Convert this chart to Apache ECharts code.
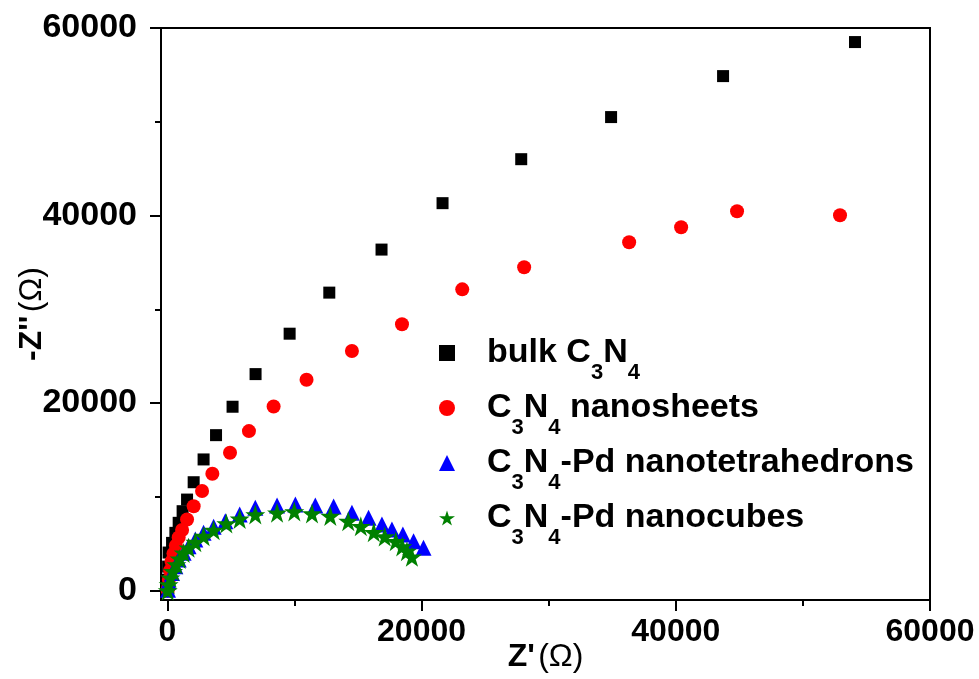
<!DOCTYPE html>
<html><head><meta charset="utf-8">
<script src="https://cdn.jsdelivr.net/npm/echarts@6/dist/echarts.min.js"></script>
<style>html,body{margin:0;padding:0;background:#fff;overflow:hidden}#c{width:979px;height:679px}</style>
</head><body><div id="c"></div>
<script>
const seriesNames = ['bulk C3N4', 'C3N4 nanosheets', 'C3N4-Pd nanotetrahedrons', 'C3N4-Pd nanocubes'];
const bulkRe = [20, 40, 60, 100, 370, 630, 890, 1200, 1550, 2070, 2850, 3830, 5130, 6940, 9620, 12740, 16850, 21650, 27840, 34910, 43720, 54100];
const bulkIm = [320, 1170, 2560, 4060, 5090, 6160, 7230, 8470, 9710, 11560, 13990, 16580, 19610, 23090, 27400, 31780, 36370, 41320, 46010, 50500, 54870, 58500];
const sheetRe = [30, 60, 120, 220, 330, 480, 670, 890, 1160, 1550, 2070, 2730, 3540, 4930, 6420, 8360, 10950, 14520, 18460, 23200, 28070, 36330, 40420, 44820, 52920];
const sheetIm = [0, 320, 1170, 2140, 3100, 3950, 4800, 5660, 6460, 7580, 9000, 10620, 12460, 14700, 17010, 19640, 22490, 25550, 28400, 32130, 34480, 37150, 38750, 40460, 40030];
const tetraRe = [50, 100, 370, 630, 890, 1280, 1670, 2200, 2850, 3640, 4560, 5690, 6920, 8630, 10070, 11640, 13080, 14520, 15830, 16880, 17670, 18530, 19370, 20150];
const tetraIm = [100, 990, 1890, 2590, 3310, 4030, 4730, 5440, 6160, 6800, 7400, 8110, 8830, 9070, 9180, 9070, 8970, 8300, 7760, 7050, 6510, 5980, 5260, 4560];
const cubeRe = [30, 100, 240, 450, 710, 970, 1280, 1670, 2200, 2850, 3640, 4640, 5690, 6920, 8630, 9990, 11380, 12820, 14230, 15220, 16240, 17100, 17970, 18480, 18850, 19240];
const cubeIm = [0, 640, 1360, 2060, 2780, 3380, 4020, 4560, 5160, 5800, 6440, 7150, 7650, 8110, 8300, 8430, 8220, 7950, 7400, 6860, 6220, 5760, 5260, 4700, 4200, 3600];
const xMajorTicks = [0, 20000, 40000, 60000];
const xMinorTicks = [10000, 30000, 50000];
const yMajorTicks = [0, 20000, 40000, 60000];
const yMinorTicks = [10000, 30000, 50000];

const FONT = "'Liberation Sans', Arial, sans-serif";
const pairs = (a, b) => a.map((v, i) => [v, b[i]]);
const starPath = 'path://M50,0 L61.2,34.5 L97.6,34.5 L68.2,55.9 L79.4,90.5 L50,69.1 L20.6,90.5 L31.8,55.9 L2.4,34.5 L38.8,34.5 Z';

const legendRich = {
  g: { width: 27 },
  b: { fontSize: 34, fontWeight: 'bold', fontFamily: FONT, color: '#000', lineHeight: 62 },
  s: { fontSize: 22, fontWeight: 'bold', fontFamily: FONT, color: '#000', verticalAlign: 'bottom', lineHeight: 28 }
};
const legendText = {
  'bulk C3N4': '{g| }{b|bulk C}{s|3}{b|N}{s|4}',
  'C3N4 nanosheets': '{g| }{b|C}{s|3}{b|N}{s|4}{b| nanosheets}',
  'C3N4-Pd nanotetrahedrons': '{g| }{b|C}{s|3}{b|N}{s|4}{b|-Pd nanotetrahedrons}',
  'C3N4-Pd nanocubes': '{g| }{b|C}{s|3}{b|N}{s|4}{b|-Pd nanocubes}'
};

const axisLineStyle = { show: true, onZero: false, lineStyle: { color: '#000', width: 2 } };
const plain = v => String(v);

const chart = echarts.init(document.getElementById('c'), null, { width: 979, height: 679 });
chart.setOption({
  backgroundColor: '#fff',
  animation: false,
  grid: { left: 161, top: 28, right: 49, bottom: 79, show: true, borderColor: '#000', borderWidth: 2, containLabel: false, outerBoundsMode: 'none' },
  legend: {
    orient: 'vertical', left: 439, top: 336, padding: 0, itemGap: 7, itemWidth: 16, itemHeight: 16,
    data: seriesNames,
    formatter: n => legendText[n],
    textStyle: { rich: legendRich }
  },
  xAxis: [
    {
      type: 'value', min: -500, max: 60000, position: 'bottom',
      name: "{b|Z'} {o|(Ω)}", nameLocation: 'middle', nameGap: 41, nameMoveOverlap: false,
      nameTextStyle: { rich: {
        b: { fontSize: 32, fontWeight: 'bold', fontFamily: FONT, color: '#000' },
        o: { fontSize: 32, fontFamily: FONT, color: '#000' } } },
      axisLine: axisLineStyle,
      axisTick: { show: true, customValues: xMajorTicks, length: 11, lineStyle: { color: '#000', width: 2 } },
      axisLabel: { customValues: xMajorTicks, margin: 16, formatter: plain, fontSize: 32, fontWeight: 'bold', fontFamily: FONT, color: '#000' },
      splitLine: { show: false }
    },
    {
      type: 'value', min: -500, max: 60000, position: 'bottom',
      axisLine: { show: false, onZero: false },
      axisTick: { show: true, customValues: xMinorTicks, length: 6, lineStyle: { color: '#000', width: 2 } },
      axisLabel: { show: false },
      splitLine: { show: false }
    }
  ],
  yAxis: [
    {
      type: 'value', min: -1000, max: 60000, position: 'left',
      name: "{b|-Z''} {o|(Ω)}", nameLocation: 'middle', nameGap: 113, nameMoveOverlap: false,
      nameTextStyle: { rich: {
        b: { fontSize: 32, fontWeight: 'bold', fontFamily: FONT, color: '#000' },
        o: { fontSize: 32, fontFamily: FONT, color: '#000' } } },
      axisLine: axisLineStyle,
      axisTick: { show: true, customValues: yMajorTicks, length: 11, lineStyle: { color: '#000', width: 2 } },
      axisLabel: { customValues: yMajorTicks, margin: 24, formatter: plain, fontSize: 34, fontWeight: 'bold', fontFamily: FONT, color: '#000' },
      splitLine: { show: false }
    },
    {
      type: 'value', min: -1000, max: 60000, position: 'left',
      axisLine: { show: false, onZero: false },
      axisTick: { show: true, customValues: yMinorTicks, length: 6, lineStyle: { color: '#000', width: 2 } },
      axisLabel: { show: false },
      splitLine: { show: false }
    }
  ],
  series: [
    { name: seriesNames[0], type: 'scatter', symbol: 'rect', symbolSize: 12, itemStyle: { color: '#000000', opacity: 1 }, data: pairs(bulkRe, bulkIm) },
    { name: seriesNames[1], type: 'scatter', symbol: 'circle', symbolSize: 14, itemStyle: { color: '#ff0000', opacity: 1 }, data: pairs(sheetRe, sheetIm) },
    { name: seriesNames[2], type: 'scatter', symbol: 'triangle', symbolSize: 16, itemStyle: { color: '#0000ff', opacity: 1 }, data: pairs(tetraRe, tetraIm) },
    { name: seriesNames[3], type: 'scatter', symbol: starPath, symbolSize: 20, itemStyle: { color: '#008000', opacity: 1 }, data: pairs(cubeRe, cubeIm) }
  ]
});
</script>
</body></html>
